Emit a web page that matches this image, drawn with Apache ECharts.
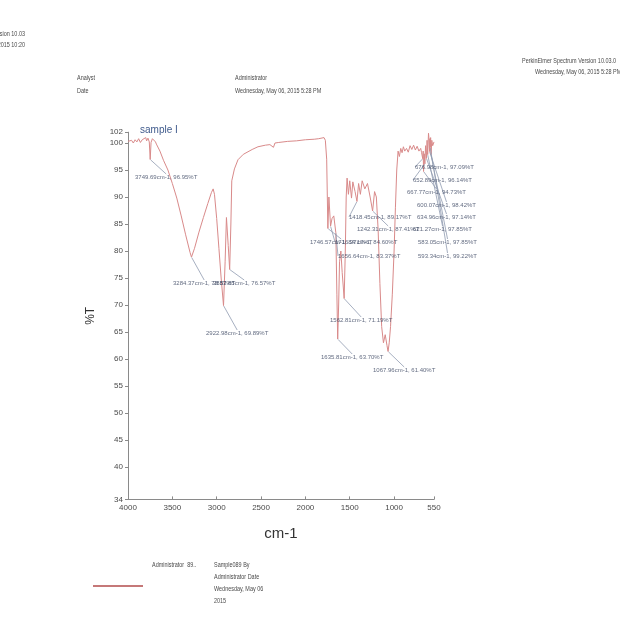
<!DOCTYPE html>
<html>
<head>
<meta charset="utf-8">
<script src="https://cdn.jsdelivr.net/npm/echarts@6/dist/echarts.min.js"></script>
<style>
  html, body { margin: 0; padding: 0; background: #ffffff; }
  #chart { width: 620px; height: 637px; }
</style>
</head>
<body>
<div id="chart"></div>
<script>
// IR spectrum of sample I: wavenumber (cm-1) and transmittance (%T)
const wavenumbers = [
  4000, 3980, 3960, 3940, 3920, 3900, 3880, 3860, 3840, 3820, 3800, 3790, 3775, 3760,
  3749.69, 3740, 3725, 3710, 3690, 3680, 3640, 3600, 3550, 3500, 3450, 3400, 3350, 3300,
  3284.37, 3250, 3200, 3150, 3100, 3060, 3040, 3025, 3000, 2975, 2950, 2922.98, 2905,
  2890, 2870, 2853.85, 2840, 2830, 2800, 2760, 2700, 2600, 2535, 2450, 2400, 2360, 2343,
  2300, 2200, 2100, 2000, 1900, 1850, 1790, 1775, 1760,
  1746.57, 1735, 1716.27, 1700, 1680, 1656.64, 1645, 1635.81, 1625, 1615, 1600, 1585,
  1562.81, 1550, 1540, 1530, 1515, 1500, 1480, 1465, 1440, 1418.45, 1400, 1380, 1360,
  1330, 1300, 1270, 1242.31, 1220, 1200, 1180, 1160, 1140, 1120, 1100, 1080, 1067.96,
  1055, 1040, 1020, 1000, 985, 970, 955, 940, 925, 910, 895, 880, 860, 840, 820, 800,
  780, 760, 740, 720, 700, 690, 676.98, 672, 667.77, 660, 652.89, 645, 634.96, 628,
  621.27, 612, 605, 600.07, 596, 593.34, 588, 583.05, 575, 565, 550
];
const transmittance = [
  100.3, 100.1, 100.5, 100.0, 100.6, 100.2, 100.8, 100.1, 100.6, 100.3, 101.0, 100.4, 100.9, 100.2,
  96.95, 100.1, 100.8, 100.6, 100.2, 99.8, 98.5, 96.8, 95.0, 92.5, 89.8, 86.5, 83.0, 79.7,
  78.87, 80.5, 83.5, 86.2, 88.8, 90.8, 91.5, 90.5, 86.0, 80.5, 75.0, 69.89, 78.0,
  86.2, 81.0, 76.57, 85.0, 93.0, 95.2, 96.9, 97.9, 98.8, 99.3, 99.6, 99.7, 99.2, 100.0,
  100.1, 100.3, 100.4, 100.6, 100.7, 100.8, 101.0, 100.5, 97.0,
  84.17, 90.0, 84.60, 86.0, 86.5, 83.37, 72.0, 63.70, 70.0, 78.0, 80.0, 76.0,
  71.19, 80.0, 90.0, 93.5, 90.5, 93.0, 89.8, 92.8, 91.0, 89.17, 92.5, 90.5, 93.0,
  91.5, 92.5, 90.0, 87.41, 91.0, 90.0, 84.0, 74.0, 66.0, 63.0, 64.5, 62.5, 61.40,
  63.0, 66.0, 72.0, 80.0, 88.0, 95.0, 98.5, 97.5, 99.0, 98.2, 99.3, 98.5, 99.0, 98.3, 99.5, 98.8,
  99.6, 98.7, 99.4, 98.5, 99.0, 98.2, 97.09, 98.5, 94.73, 98.0, 96.14, 99.5, 97.14, 100.5,
  97.85, 101.8, 100.5, 98.42, 100.8, 99.22, 101.0, 97.85, 100.5, 99.5, 100.2
];

// Labelled peaks
const peakWavenumbers = [
  3749.69, 3284.37, 2853.85, 2922.98,
  1746.57, 1716.27, 1656.64, 1418.45, 1242.31, 1562.81, 1635.81, 1067.96,
  676.98, 652.89, 667.77, 600.07, 634.96, 621.27, 583.05, 593.34
];
const peakTransmittance = [
  96.95, 78.87, 76.57, 69.89,
  84.17, 84.60, 83.37, 89.17, 87.41, 71.19, 63.70, 61.40,
  97.09, 96.14, 94.73, 98.42, 97.14, 97.85, 97.85, 99.22
];

// Axis tick values
const xTicks = [4000, 3500, 3000, 2500, 2000, 1500, 1000, 550];
const yTicks = [34, 40, 45, 50, 55, 60, 65, 70, 75, 80, 85, 90, 95, 100, 102];

// Where each peak annotation sits on the page (left edge, vertical centre), in pixels
const peakLabelPos = [
  [135, 177], [173, 283], [213, 283], [206, 333],
  [310, 242], [335, 242], [338, 256], [349, 217], [357, 229], [330, 320], [321, 357], [373, 370],
  [415, 167], [413, 180], [407, 192], [417, 205], [417, 217], [413, 229], [418, 242], [418, 256]
];

const fontStack = "'Liberation Sans Narrow', 'Arial Narrow', 'Liberation Sans', sans-serif";
const inkGrey = '#4a4a4a';

const chart = echarts.init(document.getElementById('chart'), null, { renderer: 'canvas' });

// condensed header / legend text
const headerText = (text, x, y, size, extra) => ({
  type: 'text', x: x, y: y, scaleX: 0.78, silent: true,
  style: Object.assign({ text: text, fontSize: size, fontFamily: fontStack, fill: inkGrey }, extra || {})
});

chart.setOption({
  animation: false,
  backgroundColor: '#ffffff',
  grid: { left: 128, right: 186, top: 132.2, bottom: 137.6, containLabel: false },
  xAxis: {
    type: 'value', inverse: true, min: 550, max: 4000,
    name: 'cm-1', nameLocation: 'middle', nameGap: 27,
    nameTextStyle: { fontSize: 15, fontFamily: fontStack, color: '#333' },
    axisLine: { show: true, lineStyle: { color: '#8a8a8a', width: 1 } },
    axisTick: { show: true, inside: true, length: 3, customValues: xTicks, lineStyle: { color: '#8a8a8a' } },
    axisLabel: { customValues: xTicks, formatter: v => String(v), fontSize: 8, fontFamily: fontStack, color: inkGrey, margin: 4 },
    splitLine: { show: false }
  },
  yAxis: {
    type: 'value', min: 34, max: 102,
    name: '%T', nameLocation: 'middle', nameGap: 31, nameRotate: 90,
    nameTextStyle: { fontSize: 12, fontFamily: fontStack, color: '#333' },
    axisLine: { show: true, lineStyle: { color: '#8a8a8a', width: 1 } },
    axisTick: { show: true, length: 3, customValues: yTicks, lineStyle: { color: '#8a8a8a' } },
    axisLabel: { customValues: yTicks, formatter: v => String(v), fontSize: 8, fontFamily: fontStack, color: inkGrey, margin: 5 },
    splitLine: { show: false }
  },
  series: [
    {
      type: 'line',
      data: wavenumbers.map((w, i) => [w, transmittance[i]]),
      showSymbol: false,
      smooth: false,
      clip: true,
      lineStyle: { color: '#d98a8a', width: 1 },
      z: 3
    },
    {
      type: 'scatter',
      data: peakWavenumbers.map((w, i) => [w, peakTransmittance[i]]),
      symbolSize: 1,
      itemStyle: { color: 'rgba(0,0,0,0)' },
      label: {
        show: true,
        formatter: p => p.value[0].toFixed(2) + 'cm-1, ' + p.value[1].toFixed(2) + '%T',
        fontSize: 6, fontFamily: fontStack, color: '#3a4560'
      },
      labelLine: { show: true, length2: 0, lineStyle: { color: '#8f9ab0', width: 0.8 } },
      labelLayout: params => {
        const pos = peakLabelPos[params.dataIndex];
        return { x: pos[0], y: pos[1], align: 'left', verticalAlign: 'middle', hideOverlap: false };
      },
      z: 4
    }
  ],
  graphic: [
    headerText('Spectrum Version 10.03', 25, 31, 7, { align: 'right' }),
    headerText('Wednesday, May 06, 2015 10:20', 25, 42, 7, { align: 'right' }),
    headerText('PerkinElmer Spectrum Version 10.03.0', 522, 58, 7),
    headerText('Wednesday, May 06, 2015 5:28 PM', 535, 69, 7),
    headerText('Analyst', 77, 75, 7),
    headerText('Date', 77, 88, 7),
    headerText('Administrator', 235, 75, 7),
    headerText('Wednesday, May 06, 2015 5:28 PM', 235, 88, 7),
    {
      type: 'text', x: 140, y: 125, silent: true,
      style: { text: 'sample I', fontSize: 10, fontFamily: fontStack, fill: '#3f5a8c' }
    },
    headerText('Administrator  89..', 152, 562, 7),
    headerText('Sample089 By', 214, 562, 7),
    headerText('Administrator Date', 214, 574, 7),
    headerText('Wednesday, May 06', 214, 586, 7),
    headerText('2015', 214, 598, 7),
    {
      type: 'line', silent: true,
      shape: { x1: 93, y1: 586, x2: 143, y2: 586 },
      style: { stroke: '#c57878', lineWidth: 2 }
    }
  ]
});
</script>
</body>
</html>
